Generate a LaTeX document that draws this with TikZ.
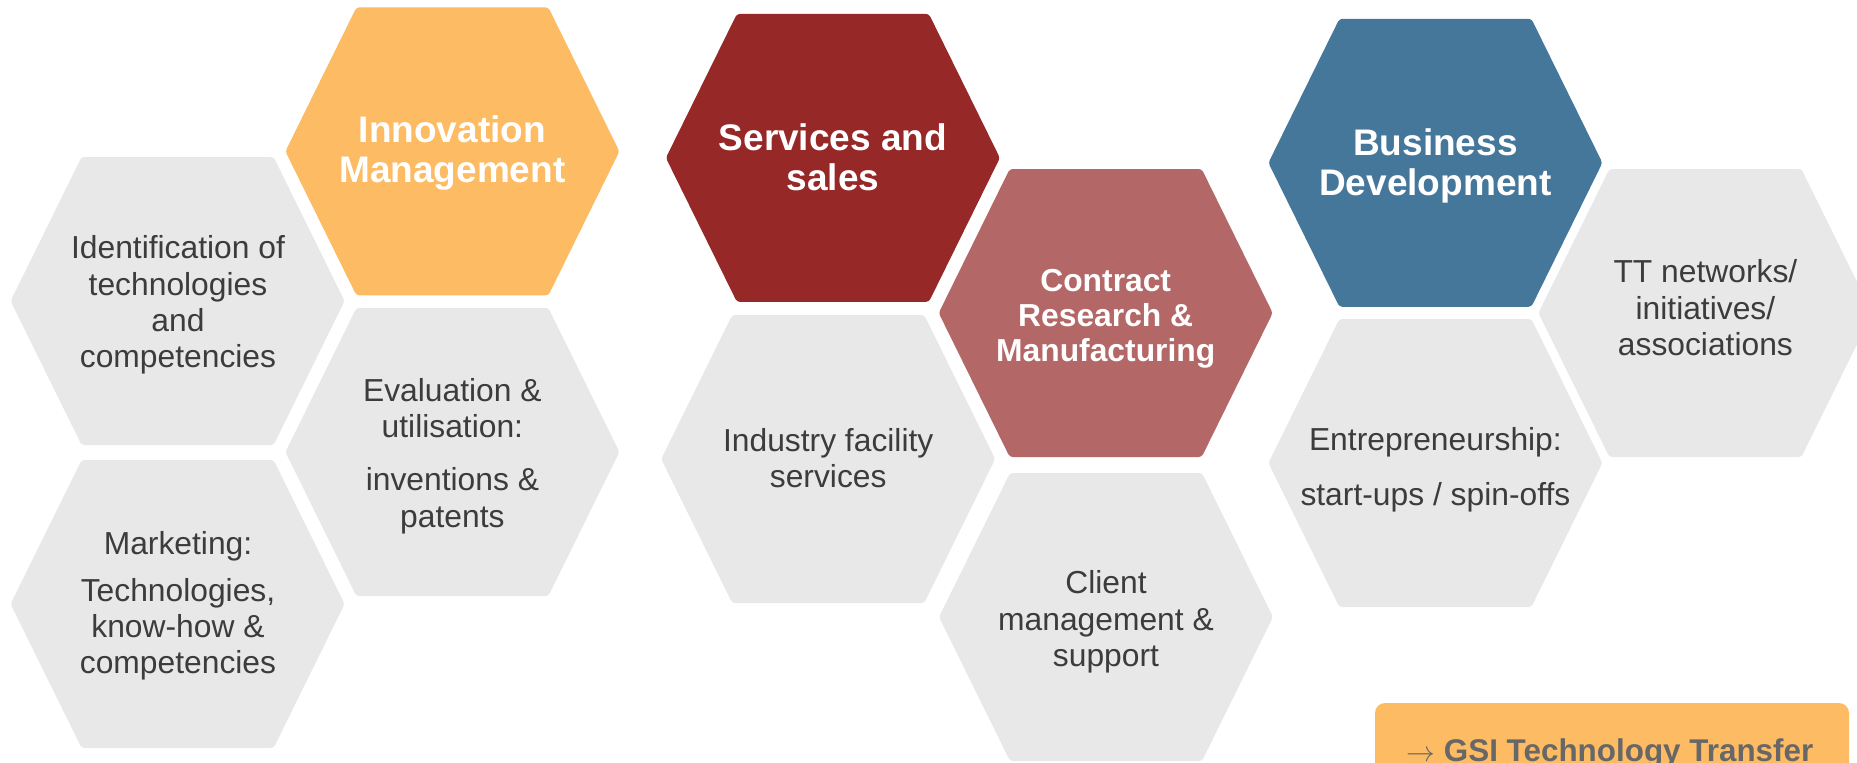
\documentclass[tikz,border=0pt]{standalone}
\usepackage{fontspec}
\setmainfont{Liberation Sans}
\definecolor{hexgray}{HTML}{E8E8E8}
\definecolor{orng}{HTML}{FDBB63}
\definecolor{dred}{HTML}{972828}
\definecolor{pred}{HTML}{B46767}
\definecolor{blu}{HTML}{45779B}
\definecolor{txtgray}{HTML}{3C3C3C}
\definecolor{gsitxt}{HTML}{676767}
\tikzset{
  hexshape/.pic={\fill[pic actions, rounded corners=1.5pt] (-167,0) -- (-96,-144) -- (96,-144) -- (167,0) -- (96,144) -- (-96,144) -- cycle;},
  graytxt/.style={align=center, text=txtgray, inner sep=0pt, font=\fontsize{15.9}{18.2}\selectfont},
  titletxt/.style={align=center, text=white, inner sep=0pt, font=\bfseries\fontsize{18.5}{20}\selectfont},
  smalltitle/.style={align=center, text=white, inner sep=0pt, font=\bfseries\fontsize{15.9}{17.5}\selectfont},
}
\begin{document}
\begin{tikzpicture}[x=0.5pt,y=-0.5pt]
\clip (0,0) rectangle (1857,762);
\fill[white] (0,0) rectangle (1857,762);
% hexagons
\pic[fill=hexgray] at (177.6,301) {hexshape};
\pic[fill=hexgray] at (177.6,604) {hexshape};
\pic[fill=orng] at (452.4,151.4) {hexshape};
\pic[fill=hexgray] at (452.4,452) {hexshape};
\pic[fill=dred] at (832.9,157.9) {hexshape};
\pic[fill=hexgray] at (828.2,459) {hexshape};
\pic[fill=pred] at (1105.7,313) {hexshape};
\pic[fill=hexgray] at (1106,617) {hexshape};
\pic[fill=blu] at (1435.4,162.8) {hexshape};
\pic[fill=hexgray] at (1435.4,463) {hexshape};
\pic[fill=hexgray] at (1705.4,313) {hexshape};
% texts
\node[graytxt] (ident) at (178,305) {Identification of\\technologies\\and\\competencies};
\node[graytxt] (mkt) at (178,606) {Marketing:\\[5pt]Technologies,\\know-how \&\\competencies};
\node[titletxt] (innov) at (452.4,153.5) {Innovation\\Management};
\node[graytxt] (eval) at (452.4,456) {Evaluation \&\\utilisation:\\[8.5pt]inventions \&\\patents};
\node[titletxt] (serv) at (832.9,157.5) {Services and\\sales};
\node[graytxt] (ind) at (828.2,458) {Industry facility\\services};
\node[smalltitle] (contr) at (1105.7,319) {Contract\\Research \&\\Manufacturing};
\node[graytxt] (client) at (1106,622) {Client\\management \&\\support};
\node[titletxt] (bus) at (1435.4,166) {Business\\Development};
\node[graytxt] (entr) at (1435.4,470) {Entrepreneurship:\\[9.5pt]start-ups / spin-offs};
\node[graytxt] (tt) at (1705.4,308) {TT networks/\\initiatives/\\associations};
% GSI box
\fill[orng, rounded corners=5pt] (1375,703) rectangle (1849,800);
\node[anchor=base west, inner sep=0pt, text=gsitxt, font=\bfseries\fontsize{15.7}{18}\selectfont] (gsi) at (1406,761) {$\rightarrow$ GSI Technology Transfer};
\end{tikzpicture}
\end{document}
